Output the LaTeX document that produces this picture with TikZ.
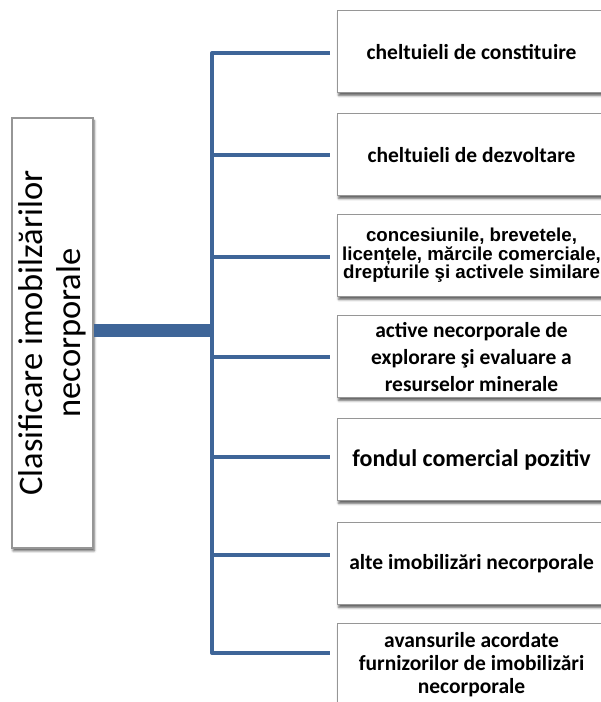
\documentclass[tikz,border=0pt]{standalone}
\usepackage{fontspec}
\setmainfont{Carlito}
\newfontfamily\arialfont{Liberation Sans}
\usetikzlibrary{shadows.blur}
\definecolor{lineblue}{RGB}{62,101,152}
\definecolor{boxgray}{RGB}{150,150,150}
\begin{document}
\begin{tikzpicture}[x=1pt,y=-1pt,
  catbox/.style={draw=boxgray, line width=1.1pt, fill=white, rectangle,
    anchor=north west, minimum width=268pt, minimum height=82pt,
    inner sep=0pt, align=center, font=\bfseries\fontsize{21.5}{27}\selectfont,
    blur shadow={shadow xshift=1.2pt, shadow yshift=-2.8pt, shadow blur radius=2.4pt, shadow opacity=65}},
  rootbox/.style={draw=boxgray, line width=1.1pt, fill=white, rectangle,
    minimum width=430pt, minimum height=81pt, inner sep=0pt, rotate=90,
    align=center, font=\mdseries\fontsize{34.5}{38}\selectfont,
    blur shadow={shadow xshift=1.2pt, shadow yshift=-2.8pt, shadow blur radius=2.4pt, shadow opacity=65}},
  branch/.style={draw=lineblue, line width=4pt},
  trunk/.style={draw=lineblue, line width=13pt}]
\useasboundingbox (0,0) rectangle (601,702);
\clip (0,0) rectangle (601,702);

% target boxes
\node[catbox] (b1) at (337,10) {cheltuieli de constituire};
\node[catbox] (b2) at (337,113) {cheltuieli de dezvoltare};
\node[catbox, font=\arialfont\bfseries\fontsize{18.7}{18.5}\selectfont] (b3) at (337,214)
  {concesiunile, brevetele,\\ licențele, mărcile comerciale,\\ drepturile şi activele similare};
\node[catbox] (b4) at (337,315) {active necorporale de\\ explorare şi evaluare a\\ resurselor minerale};
\node[catbox, font=\bfseries\fontsize{24}{28}\selectfont] (b5) at (337,418) {fondul comercial pozitiv};
\node[catbox] (b6) at (337,522) {alte imobilizări necorporale};
\node[catbox, font=\bfseries\fontsize{21.5}{23}\selectfont] (b7) at (337,623)
  {avansurile acordate\\ furnizorilor de imobilizări\\ necorporale};

% root box
\node[rootbox] (root) at (52.5,333) {Clasificare imobilzărilor\\ necorporale};

% connectors
\coordinate (hub) at (212,330);
\coordinate (j1) at (212,53);
\coordinate (j2) at (212,155);
\coordinate (j3) at (212,257);
\coordinate (j4) at (212,357);
\coordinate (j5) at (212,457);
\coordinate (j6) at (212,555);
\coordinate (j7) at (212,653);

\draw[trunk] ([yshift=3pt]root.south) -- ([yshift=3pt]root.south -| hub);
\draw[branch, line join=round] ([xshift=-7pt]j1 -| b1.west) -- (j1) -- (j7) -- ([xshift=-7pt]j7 -| b7.west);
\foreach \i in {2,...,6}{
  \draw[branch] (j\i) -- ([xshift=-7pt]j\i -| b\i.west);
}
\end{tikzpicture}
\end{document}
